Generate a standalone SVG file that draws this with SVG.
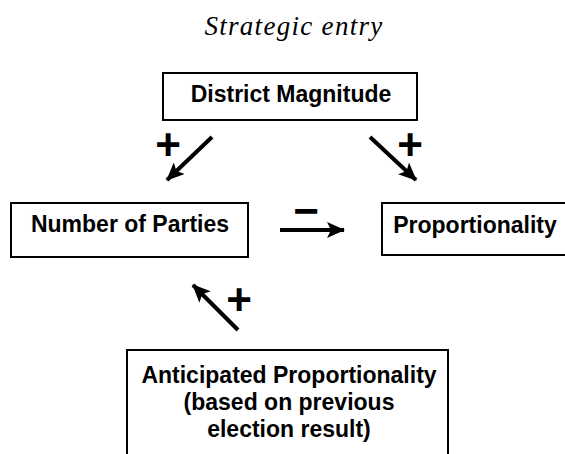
<svg xmlns="http://www.w3.org/2000/svg" width="565" height="454" viewBox="0 0 565 454">
<style>
.box{fill:#fff;stroke:#000;stroke-width:2}
.lbl{font-family:"Liberation Sans",Arial,sans-serif;font-weight:bold;font-size:23px;text-anchor:middle;fill:#000}
.sign{font-family:"Liberation Sans",Arial,sans-serif;font-weight:bold;font-size:44px;text-anchor:middle;fill:#000}
.edge{stroke:#000;stroke-width:4;fill:none;marker-end:url(#ah)}
</style>
<defs>
<marker id="ah" markerUnits="userSpaceOnUse" markerWidth="18" markerHeight="16" refX="17" refY="8" orient="auto">
<path d="M0,0 L18,8 L0,16 L4,8 Z" fill="#000"/>
</marker>
</defs>
<rect width="565" height="454" fill="#fff"/>
<text x="294" y="35" font-family="'Liberation Serif','Times New Roman',serif" font-style="italic" font-size="27" letter-spacing="1.3" text-anchor="middle">Strategic entry</text>
<g id="district">
<rect class="box" x="163" y="73" width="254" height="47"/>
<text class="lbl" x="291" y="102">District Magnitude</text>
</g>
<g id="parties">
<rect class="box" x="11" y="203" width="237" height="54"/>
<text class="lbl" x="130" y="232" font-size="24">Number of Parties</text>
</g>
<g id="proportionality">
<rect class="box" x="382" y="203" width="190" height="52"/>
<text class="lbl" x="475" y="233">Proportionality</text>
</g>
<g id="anticipated">
<rect class="box" x="127" y="350" width="321" height="120"/>
<text class="lbl" x="289" y="383">Anticipated Proportionality</text>
<text class="lbl" x="289" y="410">(based on previous</text>
<text class="lbl" x="289" y="437">election result)</text>
</g>
<g id="connectors">
<line class="edge" x1="212" y1="137" x2="167" y2="180"/>
<line class="edge" x1="370" y1="137" x2="416" y2="180"/>
<line class="edge" x1="280" y1="230" x2="344" y2="230"/>
<line class="edge" x1="238" y1="330" x2="193" y2="285"/>
<text class="sign" x="168" y="160">+</text>
<text class="sign" x="410" y="160">+</text>
<text class="sign" x="306" y="226">−</text>
<text class="sign" x="239" y="315">+</text>
</g>
</svg>
